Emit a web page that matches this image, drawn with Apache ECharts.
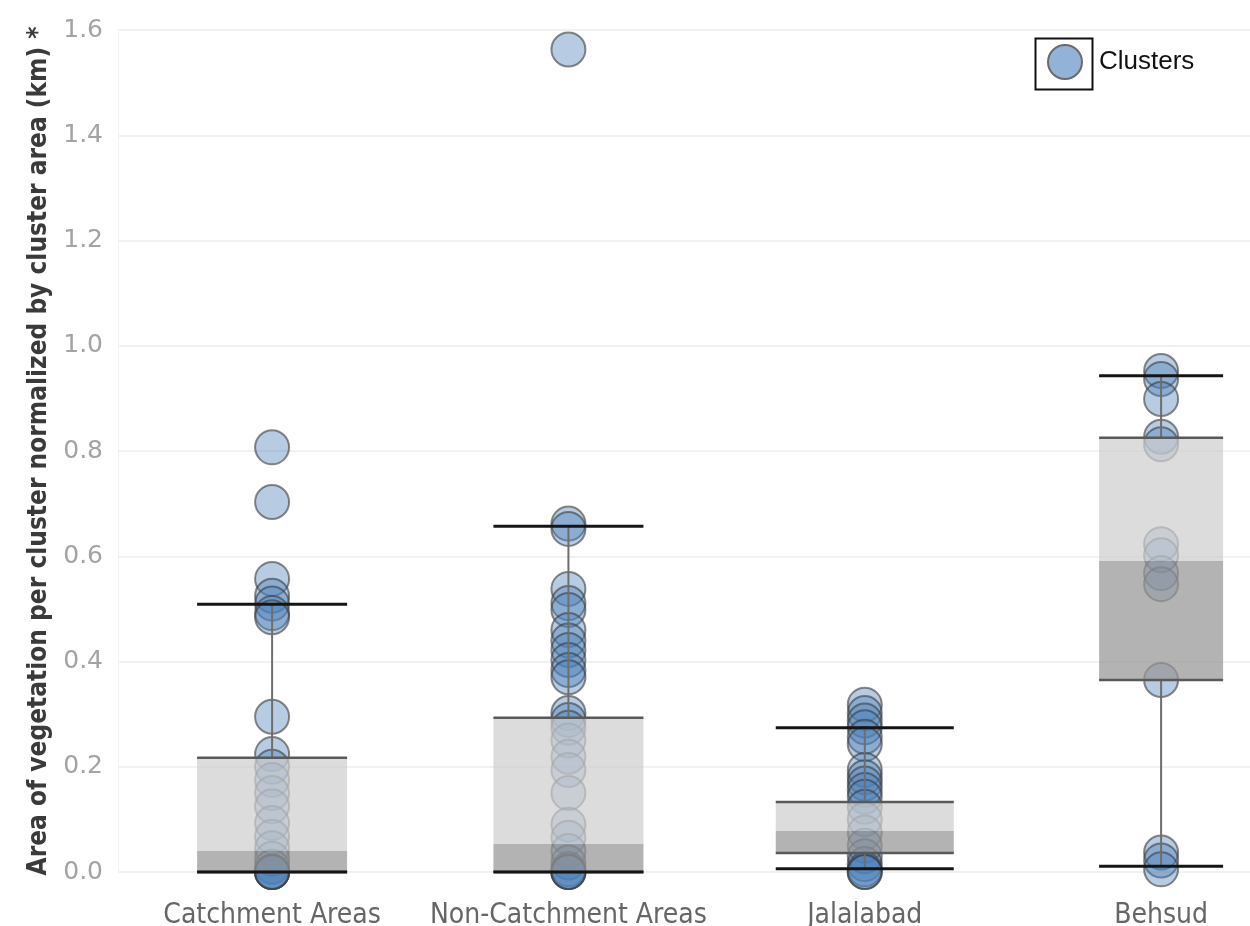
<!DOCTYPE html>
<html>
<head>
<meta charset="utf-8">
<script src="https://cdn.jsdelivr.net/npm/echarts@6/dist/echarts.min.js"></script>
<style>html,body{margin:0;padding:0;background:#fff}#c{width:1250px;height:926px}</style>
</head>
<body>
<div id="c"></div>
<script>
// ---- data ----
const categories = ['Catchment Areas', 'Non-Catchment Areas', 'Jalalabad', 'Behsud'];
const yTicks = [0.0, 0.2, 0.4, 0.6, 0.8, 1.0, 1.2, 1.4, 1.6];

const catchment = [0.807, 0.703, 0.557, 0.525, 0.51, 0.492, 0.484, 0.295, 0.224, 0.2, 0.175, 0.15, 0.125, 0.093, 0.067, 0.045, 0.025, 0.01, 0.0, 0.0, 0.0, 0.0];
const nonCatchment = [1.563, 0.662, 0.652, 0.538, 0.511, 0.498, 0.46, 0.44, 0.422, 0.403, 0.384, 0.37, 0.302, 0.289, 0.274, 0.25, 0.219, 0.194, 0.15, 0.09, 0.065, 0.04, 0.018, 0.005, 0.0, 0.0, 0.0];
const jalalabad = [0.318, 0.302, 0.288, 0.275, 0.257, 0.243, 0.194, 0.18, 0.168, 0.156, 0.143, 0.124, 0.1, 0.075, 0.05, 0.03, 0.015, 0.005, 0.0, 0.0];
const behsud = [0.952, 0.937, 0.899, 0.827, 0.813, 0.623, 0.602, 0.568, 0.547, 0.365, 0.037, 0.022, 0.005];

const lowerWhisker = [0.0, 0.0, 0.006, 0.011];
const q1 = [0.0, 0.0, 0.036, 0.365];
const median = [0.04, 0.053, 0.078, 0.591];
const q3 = [0.217, 0.293, 0.133, 0.825];
const upperWhisker = [0.509, 0.657, 0.274, 0.943];

// ---- style config ----
const boxWidths = [150, 150, 178, 124];
const condensed = "'DejaVu Sans Condensed', 'Liberation Sans', sans-serif";

const groups = [catchment, nonCatchment, jalalabad, behsud];
const scatterData = [];
groups.forEach((g, i) => g.forEach(v => scatterData.push([i, v])));
const boxData = categories.map((c, i) => [i, lowerWhisker[i], q1[i], median[i], q3[i], upperWhisker[i]]);

const chart = echarts.init(document.getElementById('c'), null, {renderer: 'canvas'});
chart.setOption({
  backgroundColor: '#ffffff',
  animation: false,
  grid: {left: 118, right: 0, top: 30, bottom: 54, containLabel: false, outerBoundsMode: 'none'},
  legend: {
    data: ['Clusters'],
    left: 1047, top: 44, padding: 0,
    icon: 'circle', itemWidth: 34, itemHeight: 34,
    itemStyle: {color: '#93b2d7', borderColor: '#6a6a6a', borderWidth: 2, opacity: 1},
    textStyle: {fontFamily: 'Liberation Sans', fontSize: 26, color: '#111', padding: [0, 0, 0, 12]}
  },
  graphic: [{
    type: 'rect', left: 1033, top: 36, z: 100,
    shape: {width: 57, height: 51},
    style: {fill: 'none', stroke: '#111', lineWidth: 2}
  }],
  xAxis: {
    type: 'value', min: -0.52, max: 3.3,
    axisLine: {show: false}, axisTick: {show: false}, splitLine: {show: false},
    axisLabel: {
      customValues: [0, 1, 2, 3],
      formatter: v => categories[Math.round(v)] || '',
      fontFamily: condensed, fontSize: 28, color: '#666', margin: 30
    }
  },
  yAxis: {
    type: 'value', min: 0, max: 1.6, interval: 0.2,
    name: 'Area of vegetation per cluster normalized by cluster area (km) *',
    nameLocation: 'middle', nameRotate: 90, nameGap: 66,
    nameTextStyle: {fontFamily: condensed, fontWeight: 'bold', fontSize: 26, color: '#3a3a3a'},
    axisLine: {show: true, onZero: false, lineStyle: {color: '#f2f2f2', width: 1}},
    axisTick: {show: false},
    axisLabel: {formatter: v => yTicks.includes(+v.toFixed(1)) ? v.toFixed(1) : '', fontFamily: 'DejaVu Sans', fontSize: 25, color: '#a3a3a3', margin: 15},
    splitLine: {lineStyle: {color: '#ececec', width: 1.5}}
  },
  series: [
    {
      name: 'Clusters', type: 'scatter', z: 2, clip: false,
      symbol: 'circle', symbolSize: 34,
      itemStyle: {color: 'rgba(76,127,185,0.5)', borderColor: 'rgba(60,60,60,0.75)', borderWidth: 2},
      data: scatterData
    },
    {
      name: 'box', type: 'custom', z: 5, clip: false,
      data: boxData,
      renderItem: function (params, api) {
        const i = api.value(0);
        const cx = api.coord([i, 0])[0];
        const hw = boxWidths[i] / 2;
        const yLw = api.coord([i, api.value(1)])[1];
        const yQ1 = api.coord([i, api.value(2)])[1];
        const yMd = api.coord([i, api.value(3)])[1];
        const yQ3 = api.coord([i, api.value(4)])[1];
        const yUw = api.coord([i, api.value(5)])[1];
        const ch = [];
        ch.push({type: 'rect', shape: {x: cx - hw, y: yQ3, width: 2 * hw, height: yMd - yQ3}, style: {fill: 'rgba(206,206,206,0.72)'}});
        ch.push({type: 'rect', shape: {x: cx - hw, y: yMd, width: 2 * hw, height: yQ1 - yMd}, style: {fill: 'rgba(150,150,150,0.72)'}});
        ch.push({type: 'line', shape: {x1: cx, y1: yQ3, x2: cx, y2: yUw}, style: {stroke: '#6e6e6e', lineWidth: 2}});
        ch.push({type: 'line', shape: {x1: cx, y1: yQ1, x2: cx, y2: yLw}, style: {stroke: '#6e6e6e', lineWidth: 2}});
        ch.push({type: 'line', shape: {x1: cx - hw, y1: yQ3, x2: cx + hw, y2: yQ3}, style: {stroke: '#595959', lineWidth: 2.5}});
        ch.push({type: 'line', shape: {x1: cx - hw, y1: yQ1, x2: cx + hw, y2: yQ1}, style: {stroke: '#595959', lineWidth: 2.5}});
        ch.push({type: 'line', shape: {x1: cx - hw, y1: yUw, x2: cx + hw, y2: yUw}, style: {stroke: '#151515', lineWidth: 3}});
        ch.push({type: 'line', shape: {x1: cx - hw, y1: yLw, x2: cx + hw, y2: yLw}, style: {stroke: '#151515', lineWidth: 3}});
        return {type: 'group', children: ch};
      }
    }
  ]
});
</script>
</body>
</html>
